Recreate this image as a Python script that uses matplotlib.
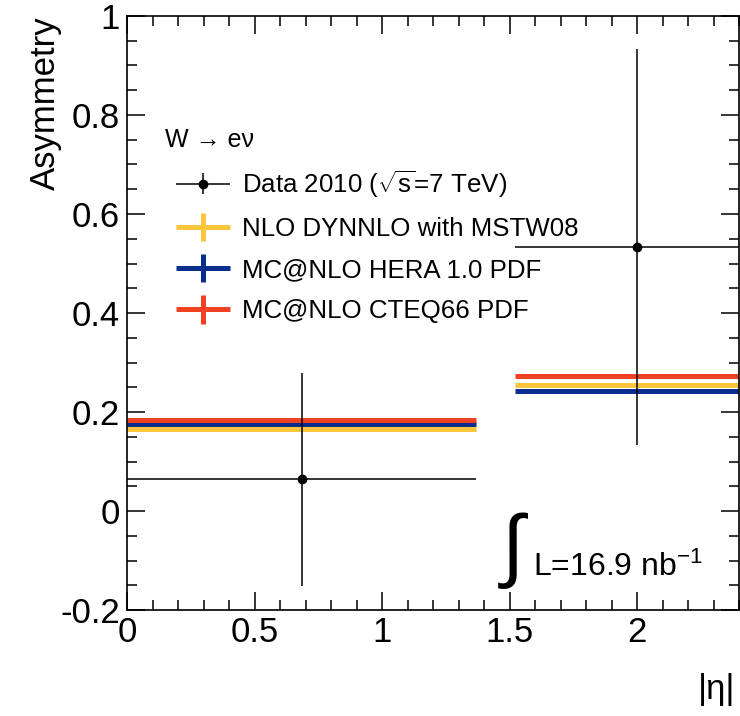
import matplotlib
matplotlib.use("Agg")
import matplotlib.pyplot as plt
from matplotlib.ticker import MultipleLocator
from matplotlib.legend_handler import HandlerErrorbar
import numpy as np

plt.rcParams['font.family'] = ['Liberation Sans', 'DejaVu Sans']
plt.rcParams['mathtext.fontset'] = 'custom'
plt.rcParams['mathtext.rm'] = 'Liberation Sans'
plt.rcParams['mathtext.it'] = 'Liberation Sans:italic'

# |eta| bins
bin_lo = np.array([0.0, 1.52])
bin_hi = np.array([1.37, 2.47])

# measured asymmetry
data_x = np.array([0.685, 2.0])
data_y = np.array([0.064, 0.533])
data_err = np.array([0.215, 0.40])

# theory predictions
nlo_mstw = np.array([0.166, 0.254])
mcnlo_hera = np.array([0.176, 0.242])
mcnlo_cteq = np.array([0.183, 0.273])

c_yellow = '#f8c53b'
c_blue = '#0b2d8e'
c_red = '#ee4223'

fig = plt.figure(figsize=(7.4, 7.16), dpi=100)
ax = fig.add_axes([127/740, 106/716, 612/740, 594/716])

centers = (bin_lo + bin_hi) / 2
halfw = (bin_hi - bin_lo) / 2

eb_y = ax.errorbar(centers, nlo_mstw, xerr=halfw, yerr=0, fmt='none', ecolor=c_yellow, elinewidth=3.6)
eb_b = ax.errorbar(centers, mcnlo_hera, xerr=halfw, yerr=0, fmt='none', ecolor=c_blue, elinewidth=3.6)
eb_r = ax.errorbar(centers, mcnlo_cteq, xerr=halfw, yerr=0, fmt='none', ecolor=c_red, elinewidth=3.6)
for eb in (eb_y, eb_b, eb_r):
    for lc in eb[2]:
        lc.set_capstyle('butt')

eb_d = ax.errorbar(data_x, data_y, xerr=[data_x - bin_lo, bin_hi - data_x], yerr=data_err,
                   fmt='o', color='black', ms=6, elinewidth=1.1, capsize=0, zorder=5)

ax.set_xlim(0, 2.4)
ax.set_ylim(-0.2, 1.0)
ax.xaxis.set_minor_locator(MultipleLocator(0.1))
ax.yaxis.set_minor_locator(MultipleLocator(0.05))
ax.set_xticks([0, 0.5, 1, 1.5, 2])
ax.set_xticklabels(['0', '0.5', '1', '1.5', '2'])
ax.set_yticks([-0.2, 0, 0.2, 0.4, 0.6, 0.8, 1.0])
ax.set_yticklabels(['-0.2', '0', '0.2', '0.4', '0.6', '0.8', '1'])
ax.tick_params(which='both', direction='in', top=True, right=True, width=1.1, labelsize=25)
ax.tick_params(which='major', length=13)
ax.tick_params(which='minor', length=7)
ax.tick_params(axis='x', pad=4)
ax.tick_params(axis='y', pad=5)
for sp in ax.spines.values():
    sp.set_linewidth(1.2)

fig.text(45/740, 1 - 16/716, 'Asymmetry', rotation=90, ha='center', va='top', fontsize=25)
fig.text(698/740, 1 - 690/716, '|η|', ha='left', va='center', fontsize=25)

fig.text(165/740, 1 - 140/716, 'W → eν', ha='left', va='center', fontsize=18)

hmap = {
    eb_d: HandlerErrorbar(xerr_size=1.05, yerr_size=0.4),
    eb_y: HandlerErrorbar(xerr_size=1.05, yerr_size=0.55),
    eb_b: HandlerErrorbar(xerr_size=1.05, yerr_size=0.55),
    eb_r: HandlerErrorbar(xerr_size=1.05, yerr_size=0.55),
}
ax.legend([eb_d, eb_y, eb_b, eb_r],
          [r'Data 2010 ($\sqrt{\mathregular{s}}$=7 TeV)', 'NLO DYNNLO with MSTW08',
           'MC@NLO HERA 1.0 PDF', 'MC@NLO CTEQ66 PDF'],
          handler_map=hmap, loc='upper left', bbox_to_anchor=(176/740, 1 - 168/716),
          bbox_transform=fig.transFigure, frameon=False, fontsize=18.6,
          handlelength=2.1, handletextpad=0.45, labelspacing=0.67,
          borderpad=0, borderaxespad=0)

fig.text(502/740, 1 - 551/716, '∫', fontsize=58, ha='left', va='center',
         family=['Liberation Sans', 'DejaVu Sans'])
fig.text(533/740, 1 - 567/716, r'L=16.9 nb$^{\mathregular{-1}}$', fontsize=23, ha='left', va='center')

fig.savefig('out.png', dpi=100)
